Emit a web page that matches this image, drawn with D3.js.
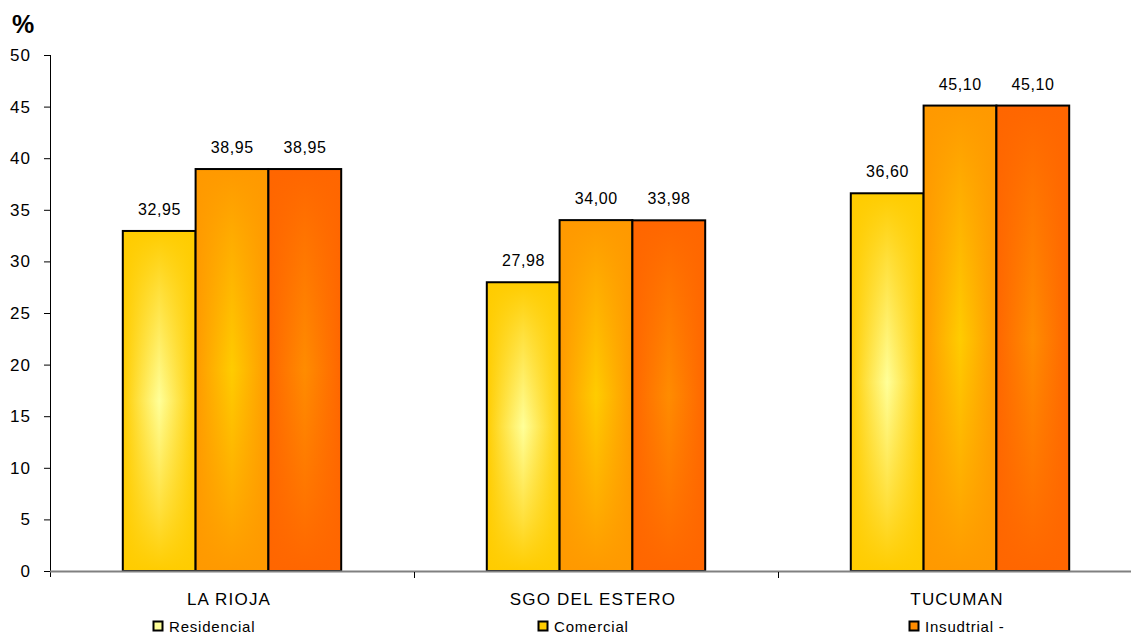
<!DOCTYPE html>
<html>
<head>
<meta charset="utf-8">
<script src="https://cdn.jsdelivr.net/npm/d3@7/dist/d3.min.js"></script>
<style>
  html, body { margin: 0; padding: 0; background: #fff; }
  svg { display: block; font-family: "Liberation Sans", Arial, sans-serif; }
</style>
</head>
<body>
<svg id="chart" width="1131" height="634"></svg>
<script>
const categories = ["LA RIOJA", "SGO DEL ESTERO", "TUCUMAN"];
const seriesNames = ["Residencial", "Comercial", "Insudtrial -"];
const residencial = [32.95, 27.98, 36.60];
const comercial = [38.95, 34.00, 45.10];
const industrial = [38.95, 33.98, 45.10];
const yTicks = [0, 5, 10, 15, 20, 25, 30, 35, 40, 45, 50];

const series = [residencial, comercial, industrial];
const edgeColors = ["#FFCC00", "#FF9900", "#FF6600"];
const centerColors = ["#FFFF99", "#FFCC00", "#FF8C00"];

const svg = d3.select("#chart");
const margin = { left: 50, top: 55, bottom: 571, right: 1142 };

const x = d3.scaleBand().domain(categories).range([margin.left, margin.right]).padding(0);
const y = d3.scaleLinear().domain([0, 50]).range([margin.bottom, margin.top]);
const barW = x.bandwidth() / 5;

const defs = svg.append("defs");
series.forEach((s, i) => {
  const h = defs.append("linearGradient").attr("id", "h" + i)
    .attr("x1", "0").attr("y1", "0").attr("x2", "1").attr("y2", "0");
  h.append("stop").attr("offset", "0%").attr("stop-color", edgeColors[i]);
  h.append("stop").attr("offset", "50%").attr("stop-color", centerColors[i]);
  h.append("stop").attr("offset", "100%").attr("stop-color", edgeColors[i]);
  const v = defs.append("linearGradient").attr("id", "v" + i)
    .attr("x1", "0").attr("y1", "0").attr("x2", "0").attr("y2", "1");
  v.append("stop").attr("offset", "0%").attr("stop-color", edgeColors[i]).attr("stop-opacity", 1);
  v.append("stop").attr("offset", "18%").attr("stop-color", edgeColors[i]).attr("stop-opacity", 0.6);
  v.append("stop").attr("offset", "50%").attr("stop-color", edgeColors[i]).attr("stop-opacity", 0);
  v.append("stop").attr("offset", "82%").attr("stop-color", edgeColors[i]).attr("stop-opacity", 0.6);
  v.append("stop").attr("offset", "100%").attr("stop-color", edgeColors[i]).attr("stop-opacity", 1);
});

// Y axis
const yAxis = d3.axisLeft(y).tickValues(yTicks).tickSize(6).tickPadding(14).tickFormat(d3.format("d"));
const gy = svg.append("g").attr("transform", `translate(${margin.left},0)`).call(yAxis);
gy.select(".domain").remove();
gy.selectAll(".tick line").attr("stroke", "#000");
gy.selectAll(".tick text").attr("font-size", 17).attr("fill", "#000")
  .attr("letter-spacing", 1.2).attr("dx", 1.2)
  .attr("font-family", "'Liberation Sans', Arial, sans-serif");
svg.append("line").attr("x1", margin.left + 0.5).attr("x2", margin.left + 0.5)
  .attr("y1", y(50)).attr("y2", margin.bottom + 6).attr("stroke", "#000").attr("stroke-width", 1);

// "%" title
svg.append("text").attr("x", 12).attr("y", 33).attr("font-size", 25).attr("font-weight", "bold")
  .attr("fill", "#000").text("%");

// Bars
const groups = svg.append("g").selectAll("g").data(series).join("g");
groups.each(function(s, i) {
  const g = d3.select(this);
  categories.forEach((c, j) => {
    const bx = x(c) + barW * (i + 1);
    g.append("rect").attr("x", bx).attr("y", y(s[j])).attr("width", barW)
      .attr("height", y(0) - y(s[j])).attr("fill", `url(#h${i})`);
    g.append("rect").attr("x", bx).attr("y", y(s[j])).attr("width", barW)
      .attr("height", y(0) - y(s[j])).attr("fill", `url(#v${i})`)
      .attr("stroke", "#000").attr("stroke-width", 2);
    g.append("text").attr("x", bx + barW / 2 + 0.3).attr("y", y(s[j]) - 16)
      .attr("text-anchor", "middle").attr("font-size", 16).attr("fill", "#000")
      .attr("letter-spacing", 0.6)
      .text(d3.format(".2f")(s[j]).replace(".", ","));
  });
});

// X axis
svg.append("line").attr("x1", margin.left).attr("x2", margin.right)
  .attr("y1", margin.bottom + 0.5).attr("y2", margin.bottom + 0.5)
  .attr("stroke", "#808080").attr("stroke-width", 2);
categories.forEach((c, j) => {
  if (j > 0) {
    svg.append("line").attr("x1", x(c) + 0.5).attr("x2", x(c) + 0.5)
      .attr("y1", margin.bottom + 1).attr("y2", margin.bottom + 7).attr("stroke", "#000");
  }
  svg.append("text").attr("x", x(c) + x.bandwidth() / 2 - 3).attr("y", 604.5)
    .attr("text-anchor", "middle").attr("font-size", 17).attr("fill", "#000")
    .attr("letter-spacing", 1.2).text(c);
});

// Legend
const legendX = [153, 538, 909];
seriesNames.forEach((n, i) => {
  const lg = svg.append("g").attr("transform", `translate(${legendX[i]},621)`);
  lg.append("rect").attr("x", 0.5).attr("y", 0.5).attr("width", 9).attr("height", 9)
    .attr("fill", centerColors[i]).attr("stroke", "#000").attr("stroke-width", 2);
  lg.append("text").attr("x", 16).attr("y", 10.5).attr("font-size", 15).attr("fill", "#000")
    .attr("letter-spacing", 0.8).text(n);
});
</script>
</body>
</html>
